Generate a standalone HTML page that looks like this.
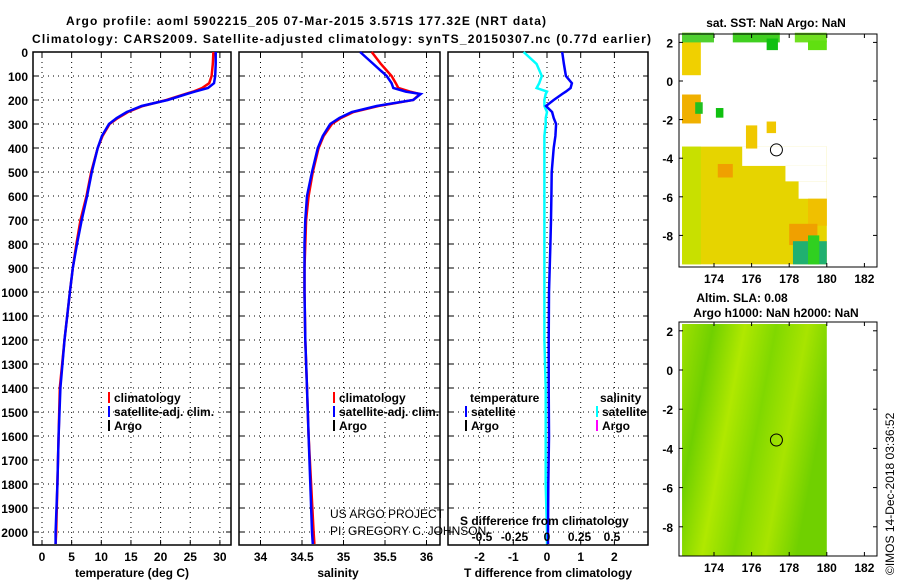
<!DOCTYPE html>
<html><head><meta charset="utf-8"><style>
body{margin:0;background:#fff}
svg text{font-family:"Liberation Sans",sans-serif;font-weight:bold;font-size:12px;fill:#000}
svg text.n{font-weight:normal}
</style></head><body>
<svg id="c" width="900" height="580" xmlns="http://www.w3.org/2000/svg">
<text x="66" y="25" font-size="14" textLength="480">Argo profile: aoml 5902215_205 07-Mar-2015 3.571S 177.32E (NRT data)</text>
<text x="32" y="43" font-size="14" textLength="619">Climatology: CARS2009. Satellite-adjusted climatology: synTS_20150307.nc (0.77d earlier)</text>
<g id="g"></g>
</svg>
<script>
const depthTicks=[0,100,200,300,400,500,600,700,800,900,1000,1100,1200,1300,1400,1500,1600,1700,1800,1900,2000];
const tTicks=[0,5,10,15,20,25,30];
const sTicks=[34,34.5,35,35.5,36];
const dTTicks=[-2,-1,0,1,2];
const dSTicks=[-0.5,-0.25,0,0.25,0.5];
const lonTicks=[174,176,178,180,182];
const latTicks=[2,0,-2,-4,-6,-8];
const depths=[0,50,100,130,150,165,175,200,225,250,275,300,350,400,500,600,700,800,900,1000,1200,1400,1600,1800,2000,2050];
const tempClim=[28.9,28.8,28.6,28.2,27.0,25.5,24.2,21.0,17.0,14.5,12.8,11.4,10.2,9.4,8.3,7.5,6.5,5.8,5.2,4.7,3.8,3.0,2.8,2.6,2.4,2.3];
const tempSat=[29.3,29.3,29.2,29.0,28.0,25.8,24.4,21.2,16.8,14.3,12.6,11.3,10.1,9.4,8.4,7.6,6.7,5.9,5.2,4.7,3.8,3.1,2.8,2.6,2.3,2.3];
const salClim=[35.34,35.45,35.58,35.63,35.66,35.8,35.92,35.84,35.42,35.12,34.97,34.86,34.76,34.70,34.63,34.58,34.55,34.54,34.53,34.53,34.54,34.56,34.58,34.61,34.64,34.65];
const salSat=[35.2,35.36,35.52,35.58,35.6,35.75,35.93,35.84,35.4,35.1,34.95,34.84,34.75,34.69,34.62,34.56,34.54,34.53,34.53,34.53,34.54,34.56,34.58,34.60,34.62,34.63];
const dTSat=[0.45,0.5,0.56,0.74,0.7,0.56,0.45,0.2,-0.03,0.15,0.2,0.27,0.25,0.2,0.14,0.13,0.12,0.1,0.08,0.06,0.05,0.05,0.06,0.04,0.03,0.03];
const dSSat=[-0.18,-0.08,-0.04,-0.06,-0.08,0,-0.01,-0.02,-0.02,0,-0.01,-0.01,-0.02,-0.02,-0.02,-0.02,-0.02,-0.02,-0.02,-0.02,-0.02,-0.01,-0.01,-0.01,0,0];

const NS='http://www.w3.org/2000/svg';
const G=document.getElementById('g');
function el(t,a,p){const e=document.createElementNS(NS,t);for(const k in a)e.setAttribute(k,a[k]);(p||G).appendChild(e);return e;}
function txt(x,y,s,a){const e=el('text',Object.assign({x:x,y:y},a||{}));e.textContent=s;return e;}
const Y=d=>52+d*0.24;
const panels=[
 {name:'temperature',x0:33,x1:231,f:v=>42+v*5.93,ticks:tTicks,label:'temperature (deg C)',lx:132},
 {name:'salinity',x0:239,x1:440,f:v=>302+(v-34.5)*83,ticks:sTicks,label:'salinity',lx:338},
 {name:'difference',x0:448,x1:648,f:v=>547+v*33.7,ticks:dTTicks,label:'T difference from climatology',lx:548}
];
const fS=v=>547+v*130;
panels.forEach((p,i)=>{
 const g=el('g',{});
 
 
 depthTicks.forEach(d=>{el('line',{x1:p.x0,x2:p.x1,y1:Y(d),y2:Y(d),stroke:'#000','stroke-dasharray':'1,4'},g);
  el('line',{x1:p.x0,x2:p.x0+5,y1:Y(d),y2:Y(d),stroke:'#000'},g);el('line',{x1:p.x1-5,x2:p.x1,y1:Y(d),y2:Y(d),stroke:'#000'},g);
  if(i==0){const t=txt(28,Y(d)+5,String(d),{'text-anchor':'end'});}});
 p.ticks.forEach(v=>{const x=p.f(v);el('line',{x1:x,x2:x,y1:52,y2:545,stroke:'#000','stroke-dasharray':'1,4'},g);
  el('line',{x1:x,x2:x,y1:540,y2:545,stroke:'#000'},g);el('line',{x1:x,x2:x,y1:52,y2:57,stroke:'#000'},g);
  const t=txt(x,561,String(v),{'text-anchor':'middle'});});
 el('rect',{x:p.x0,y:52,width:p.x1-p.x0,height:493,fill:'none',stroke:'#000','stroke-width':1.5},g);
 const at=txt(p.lx,577,p.label,{'text-anchor':'middle'});
});
function line(vals,f,col,name){const pts=depths.map((d,i)=>f(vals[i]).toFixed(1)+','+Y(d).toFixed(1)).join(' ');
 const e=el('polyline',{points:pts,fill:'none',stroke:col,'stroke-width':2.5});}
line(tempClim,panels[0].f,'#f00','temp-climatology-line');
line(tempSat,panels[0].f,'#00f','temp-satellite-line');
line(salClim,panels[1].f,'#f00','sal-climatology-line');
line(salSat,panels[1].f,'#00f','sal-satellite-line');
line(dSSat,fS,'#0ff','sdiff-satellite-line');
line(dTSat,panels[2].f,'#00f','tdiff-satellite-line');
dSTicks.forEach(v=>{const t=txt(fS(v),541,String(v),{'text-anchor':'middle'});});
let t=txt(460,525,'S difference from climatology');
function leg(x,y,col,s,name){el('rect',{x:x,y:y-10,width:2,height:11,fill:col});const e=txt(x+6,y,s);}
leg(108,402,'#f00','climatology','legend-climatology');leg(108,416,'#00f','satellite-adj. clim.','legend-satellite');leg(108,430,'#000','Argo','legend-argo');
leg(333,402,'#f00','climatology','legend-climatology');leg(333,416,'#00f','satellite-adj. clim.','legend-satellite');leg(333,430,'#000','Argo','legend-argo');
t=txt(470,402,'temperature');
t=txt(600,402,'salinity');
leg(465,416,'#00f','satellite','legend-t-satellite');leg(465,430,'#000','Argo','legend-t-argo');
leg(596,416,'#0ff','satellite','legend-s-satellite');leg(596,430,'#f0f','Argo','legend-s-argo');
t=txt(330,518,'US ARGO PROJECT',{'class':'n'});
t=txt(330,535,'PI: GREGORY C. JOHNSON',{'class':'n'});

const LX=v=>714+(v-174)*18.8;
const LY1=v=>81-v*19.3, LY2=v=>370-v*19.6;
const sst=el('g',{});


[[172.3,-9.5,180,-3.4,'#e6d400'],[172.3,-9.5,173.3,-3.4,'#c8e000'],[174.2,-5,175,-4.3,'#f0a000'],[175.5,-4.4,180,-3.4,'#fff'],[177.8,-5.2,180,-4.4,'#fff'],[178.5,-6.1,180,-5.2,'#fff'],[179,-7.5,180,-6.1,'#f0c000'],[178,-8.5,179.5,-7.4,'#f0a000'],[178.2,-9.5,180,-8.3,'#20b070'],[179,-9.5,179.6,-8,'#30d020'],[172.3,0.3,173.3,2.5,'#f0d000'],[172.3,2,174,2.5,'#50d030'],[175,2,177.5,2.5,'#40d020'],[176.8,1.6,177.4,2.2,'#10c010'],[178.3,2,180,2.5,'#70e020'],[179,1.6,180,2.1,'#60e010'],[172.3,-2.2,173.3,-0.7,'#f0b000'],[173,-1.7,173.4,-1.1,'#20c020'],[174.1,-1.9,174.5,-1.4,'#10c010'],[175.7,-3.5,176.3,-2.3,'#f0c800'],[176.8,-2.7,177.3,-2.1,'#f0c800']].forEach(r=>{
 el('rect',{x:LX(r[0]),y:LY1(r[3]),width:LX(r[2])-LX(r[0]),height:LY1(r[1])-LY1(r[3]),fill:r[4]},sst);});
const gr=el('linearGradient',{id:'sla',x1:0,x2:1,y1:0,y2:0.3},el('defs',{}));
[['0','#a0e000'],['0.2','#70d000'],['0.4','#b0e800'],['0.6','#80d800'],['0.8','#a8e400'],['1','#70d000']].forEach(s=>el('stop',{offset:s[0],'stop-color':s[1]},gr));
const sla=el('g',{});


el('rect',{x:LX(172.3),y:324,width:LX(180)-LX(172.3),height:232,fill:'url(#sla)'},sla);
[0,1].forEach(i=>{
 const top=i?322:34,bot=i?556:267,LY=i?LY2:LY1;
 const g=i?sla:sst;
 el('rect',{x:679,y:top,width:198,height:bot-top,fill:'none',stroke:'#000'},g);
 lonTicks.forEach(v=>{el('line',{x1:LX(v),x2:LX(v),y1:bot,y2:bot-4,stroke:'#000'},g);el('line',{x1:LX(v),x2:LX(v),y1:top,y2:top+4,stroke:'#000'},g);
  const e=txt(LX(v),bot+16,String(v),{'text-anchor':'middle'});});
 latTicks.forEach(v=>{el('line',{x1:679,x2:683,y1:LY(v),y2:LY(v),stroke:'#000'},g);el('line',{x1:873,x2:877,y1:LY(v),y2:LY(v),stroke:'#000'},g);
  const e=txt(673,LY(v)+5,String(v),{'text-anchor':'end'});});
 const c=el('circle',{cx:LX(177.32),cy:LY(-3.571),r:6,fill:'none',stroke:'#000'},g);
});
t=txt(776,27,'sat. SST: NaN Argo: NaN',{'text-anchor':'middle'});
t=txt(742,302,'Altim. SLA: 0.08',{'text-anchor':'middle'});
t=txt(776,317,'Argo h1000: NaN h2000: NaN',{'text-anchor':'middle'});
t=txt(0,0,'©IMOS 14-Dec-2018 03:36:52',{'class':'n',transform:'translate(894,575) rotate(-90)'});
</script>
</body></html>
